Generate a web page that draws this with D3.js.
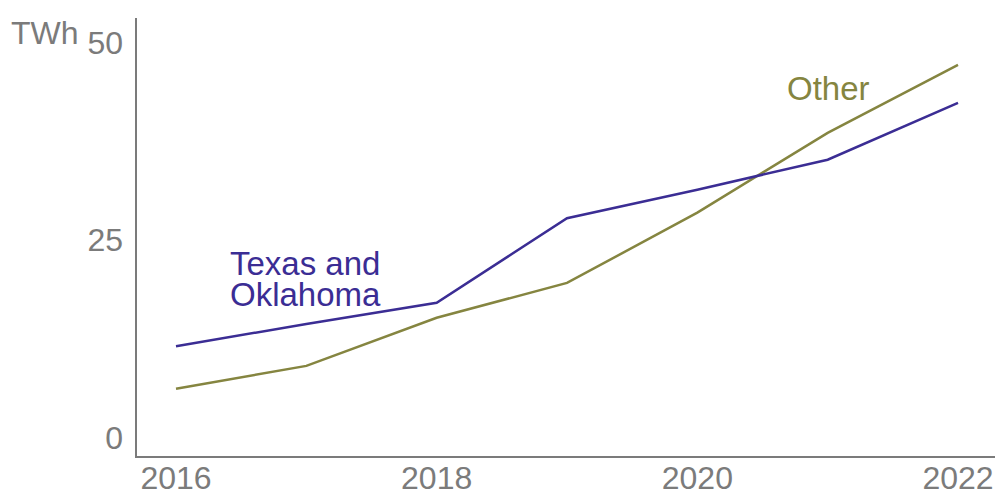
<!DOCTYPE html>
<html>
<head>
<meta charset="utf-8">
<script src="https://cdn.jsdelivr.net/npm/d3@7"></script>
<style>
  html, body { margin: 0; padding: 0; background: #fff; }
  svg { display: block; font-family: "Liberation Sans", Arial, sans-serif; }
</style>
</head>
<body>
<div id="chart"></div>
<script>
(function () {
  'use strict';

  // values (TWh)
  var years = [2016, 2017, 2018, 2019, 2020, 2021, 2022];
  var texasOklahoma = [11.5, 14.3, 17.0, 27.7, 31.3, 35.1, 42.3];
  var other = [6.1, 9.0, 15.1, 19.5, 28.4, 38.5, 47.1];
  var yTicks = [0, 25, 50];
  var xTicks = [2016, 2018, 2020, 2022];

  var width = 995, height = 496;
  var axisGrey = '#7b7b7b';
  var purple = '#3b2d94';
  var olive = '#858540';

  var x = d3.scaleLinear().domain([2016, 2022]).range([176, 958]);
  var y = d3.scaleLinear().domain([0, 50]).range([437, 42]);

  var svg = d3.select('#chart').append('svg').attr('width', width).attr('height', height);

  // axis lines
  svg.append('line').attr('x1', 136).attr('x2', 136).attr('y1', 18).attr('y2', 457)
    .attr('stroke', axisGrey).attr('stroke-width', 2);
  svg.append('line').attr('x1', 135).attr('x2', width).attr('y1', 457).attr('y2', 457)
    .attr('stroke', axisGrey).attr('stroke-width', 2);

  // y tick labels
  svg.append('g').selectAll('text').data(yTicks).enter().append('text')
    .attr('x', 123).attr('y', function (d) { return y(d); })
    .attr('dy', '0.36em').attr('text-anchor', 'end')
    .attr('font-size', 32).attr('fill', axisGrey)
    .text(function (d) { return d; });

  svg.append('text').attr('x', 11).attr('y', 44)
    .attr('font-size', 32).attr('fill', axisGrey).text('TWh');

  // x tick labels
  svg.append('g').selectAll('text').data(xTicks).enter().append('text')
    .attr('x', function (d) { return x(d); }).attr('y', 489)
    .attr('text-anchor', 'middle')
    .attr('font-size', 32).attr('fill', axisGrey)
    .text(function (d) { return d; });

  var line = d3.line()
    .x(function (d, i) { return x(years[i]); })
    .y(function (d) { return y(d); });

  svg.append('path').datum(other).attr('d', line)
    .attr('fill', 'none').attr('stroke', olive).attr('stroke-width', 2.5);
  svg.append('path').datum(texasOklahoma).attr('d', line)
    .attr('fill', 'none').attr('stroke', purple).attr('stroke-width', 2.5);

  // direct labels
  var tx = svg.append('text').attr('font-size', 33).attr('fill', purple);
  tx.append('tspan').attr('x', 230).attr('y', 275).text('Texas and');
  tx.append('tspan').attr('x', 230).attr('y', 306).text('Oklahoma');

  svg.append('text').attr('x', 787).attr('y', 100)
    .attr('font-size', 33).attr('fill', olive).text('Other');
})();
</script>
</body>
</html>
